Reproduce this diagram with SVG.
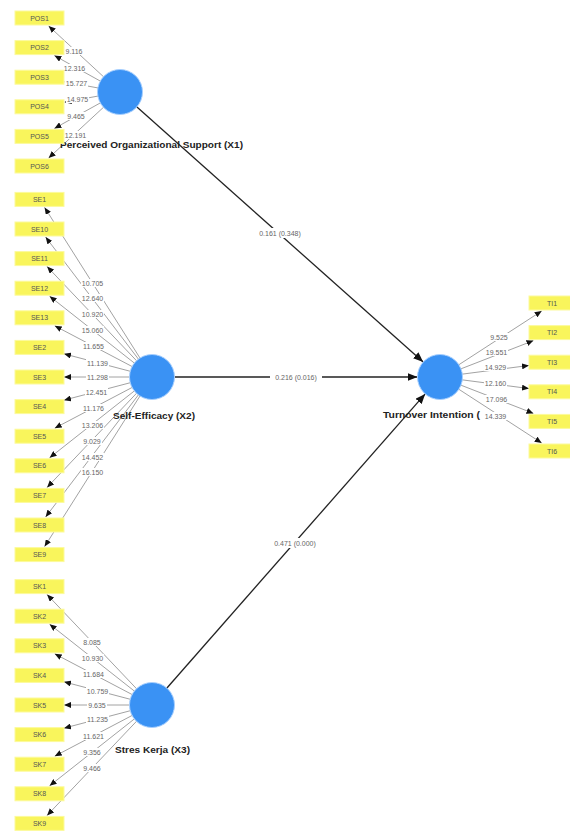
<svg xmlns="http://www.w3.org/2000/svg" width="570" height="831" viewBox="0 0 570 831">
<defs>
<marker id="ah" markerUnits="userSpaceOnUse" markerWidth="7" markerHeight="6" refX="7" refY="3" orient="auto"><path d="M0,0 L7,3 L0,6 z" fill="#111"/></marker>
<marker id="ahb" markerUnits="userSpaceOnUse" markerWidth="10" markerHeight="8" refX="10" refY="4" orient="auto"><path d="M0,0 L10,4 L0,8 z" fill="#111"/></marker>
</defs>
<style>
.ind rect{fill:#f9f55c;stroke:#fcfa9c;stroke-width:1}
.ind text{font-family:"Liberation Sans",Arial,sans-serif;font-size:7px;fill:#555;text-anchor:middle}
.lv circle{fill:#3a92f4;stroke:#a6cfff;stroke-width:1}
.lv text{font-family:"Liberation Sans",Arial,sans-serif;font-size:9px;font-weight:bold;fill:#222}
.ld{stroke:#8a8a8a;stroke-width:0.8;fill:none;marker-end:url(#ah)}
.sp{stroke:#222;stroke-width:1.3;fill:none;marker-end:url(#ahb)}
.lb{font-family:"Liberation Sans",Arial,sans-serif;font-size:7px;fill:#666;text-anchor:middle}
.bg{fill:#fff}
</style>
<rect width="570" height="831" fill="#fff"/>

<g id="connectors">
<!-- structural -->
<line class="sp" x1="136.4" y1="106.6" x2="423.2" y2="362"/>
<line class="sp" x1="174" y1="377" x2="417.5" y2="377"/>
<line class="sp" x1="166.5" y1="688.5" x2="425.2" y2="393.9"/>
<!-- POS -->
<line class="ld" x1="103.85" y1="77.06" x2="48.65" y2="26"/>
<line class="ld" x1="100.77" y1="81.33" x2="54.4" y2="55.6"/>
<line class="ld" x1="98.37" y1="88" x2="64.5" y2="81.8"/>
<line class="ld" x1="98.37" y1="96" x2="64.5" y2="102.2"/>
<line class="ld" x1="100.77" y1="102.67" x2="54.4" y2="128.4"/>
<line class="ld" x1="103.85" y1="106.94" x2="48.65" y2="158"/>
<!-- SE -->
<line class="ld" x1="140.23" y1="358.41" x2="44.6" y2="207.4"/>
<line class="ld" x1="138.69" y1="359.49" x2="45.6" y2="237"/>
<line class="ld" x1="136.85" y1="361.05" x2="47.1" y2="266.6"/>
<line class="ld" x1="134.73" y1="363.37" x2="49.6" y2="296.2"/>
<line class="ld" x1="132.53" y1="366.76" x2="54.7" y2="325.8"/>
<line class="ld" x1="130.72" y1="371.4" x2="64" y2="353.85"/>
<line class="ld" x1="130" y1="377" x2="64" y2="377"/>
<line class="ld" x1="130.72" y1="382.6" x2="64" y2="400.15"/>
<line class="ld" x1="132.53" y1="387.24" x2="54.7" y2="428.2"/>
<line class="ld" x1="134.73" y1="390.63" x2="49.6" y2="457.8"/>
<line class="ld" x1="136.85" y1="392.95" x2="47.1" y2="487.4"/>
<line class="ld" x1="138.69" y1="394.51" x2="45.6" y2="517"/>
<line class="ld" x1="140.23" y1="395.59" x2="44.6" y2="546.6"/>
<!-- SK -->
<line class="ld" x1="136.85" y1="689.05" x2="47.1" y2="594.6"/>
<line class="ld" x1="134.73" y1="691.37" x2="49.6" y2="624.2"/>
<line class="ld" x1="132.53" y1="694.76" x2="54.7" y2="653.8"/>
<line class="ld" x1="130.72" y1="699.4" x2="64" y2="681.85"/>
<line class="ld" x1="130" y1="705" x2="64" y2="705"/>
<line class="ld" x1="130.72" y1="710.6" x2="64" y2="728.15"/>
<line class="ld" x1="132.53" y1="715.24" x2="54.7" y2="756.2"/>
<line class="ld" x1="134.73" y1="718.63" x2="49.6" y2="785.8"/>
<line class="ld" x1="136.85" y1="720.95" x2="47.1" y2="815.4"/>
<!-- TI -->
<line class="ld" x1="458.45" y1="365" x2="541.7" y2="311"/>
<line class="ld" x1="460.5" y1="369" x2="533.5" y2="340.6"/>
<line class="ld" x1="461.8" y1="374.2" x2="529" y2="365.45"/>
<line class="ld" x1="461.8" y1="379.8" x2="529" y2="388.55"/>
<line class="ld" x1="460.5" y1="385" x2="533.5" y2="413.4"/>
<line class="ld" x1="458.45" y1="389" x2="541.7" y2="443"/>

<!-- path coefficient labels -->
<rect class="bg" x="255" y="228" width="50" height="10"/>
<text class="lb" x="280" y="235.5">0.161 (0.348)</text>
<rect class="bg" x="270" y="372" width="52" height="10"/>
<text class="lb" x="296" y="379.5">0.216 (0.016)</text>
<rect class="bg" x="269" y="538" width="52" height="10"/>
<text class="lb" x="295" y="545.5">0.471 (0.000)</text>

<!-- POS loading labels -->
<g>
<rect class="bg" x="64" y="47" width="20" height="8"/><text class="lb" x="74" y="53.5">9.116</text>
<rect class="bg" x="63" y="64" width="23" height="8"/><text class="lb" x="74.5" y="70.5">12.316</text>
<rect class="bg" x="65" y="79" width="23" height="8"/><text class="lb" x="76.5" y="85.5">15.727</text>
<rect class="bg" x="66" y="95" width="23" height="8"/><text class="lb" x="77.5" y="101.5">14.975</text>
<rect class="bg" x="66" y="112" width="20" height="8"/><text class="lb" x="76" y="118.5">9.465</text>
<rect class="bg" x="64" y="131" width="23" height="8"/><text class="lb" x="75.5" y="137.5">12.191</text>
</g>
<!-- SE loading labels -->
<g>
<rect class="bg" x="81" y="279" width="23" height="8"/><text class="lb" x="92.5" y="285.5">10.705</text>
<rect class="bg" x="81" y="294" width="23" height="8"/><text class="lb" x="92.5" y="300.5">12.640</text>
<rect class="bg" x="81" y="310" width="23" height="8"/><text class="lb" x="92.5" y="316.5">10.920</text>
<rect class="bg" x="81" y="326" width="23" height="8"/><text class="lb" x="92.5" y="332.5">15.060</text>
<rect class="bg" x="82" y="342" width="23" height="8"/><text class="lb" x="93.5" y="348.5">11.655</text>
<rect class="bg" x="86" y="359" width="23" height="8"/><text class="lb" x="97.5" y="365.5">11.139</text>
<rect class="bg" x="86" y="373" width="23" height="8"/><text class="lb" x="97.5" y="379.5">11.298</text>
<rect class="bg" x="85" y="388" width="23" height="8"/><text class="lb" x="96.5" y="394.5">12.451</text>
<rect class="bg" x="82" y="404" width="23" height="8"/><text class="lb" x="93.5" y="410.5">11.176</text>
<rect class="bg" x="81" y="421" width="23" height="8"/><text class="lb" x="92.5" y="427.5">13.206</text>
<rect class="bg" x="82" y="437" width="20" height="8"/><text class="lb" x="92" y="443.5">9.029</text>
<rect class="bg" x="81" y="453" width="23" height="8"/><text class="lb" x="92.5" y="459.5">14.452</text>
<rect class="bg" x="81" y="468" width="23" height="8"/><text class="lb" x="92.5" y="474.5">16.150</text>
</g>
<!-- SK loading labels -->
<g>
<rect class="bg" x="82" y="638" width="20" height="8"/><text class="lb" x="92" y="644.5">8.085</text>
<rect class="bg" x="81" y="654" width="23" height="8"/><text class="lb" x="92.5" y="660.5">10.930</text>
<rect class="bg" x="82" y="670" width="23" height="8"/><text class="lb" x="93.5" y="676.5">11.684</text>
<rect class="bg" x="86" y="687" width="23" height="8"/><text class="lb" x="97.5" y="693.5">10.759</text>
<rect class="bg" x="87" y="701" width="20" height="8"/><text class="lb" x="97" y="707.5">9.635</text>
<rect class="bg" x="86" y="715" width="23" height="8"/><text class="lb" x="97.5" y="721.5">11.235</text>
<rect class="bg" x="82" y="732" width="23" height="8"/><text class="lb" x="93.5" y="738.5">11.621</text>
<rect class="bg" x="82" y="748" width="20" height="8"/><text class="lb" x="92" y="754.5">9.356</text>
<rect class="bg" x="82" y="764" width="20" height="8"/><text class="lb" x="92" y="770.5">9.466</text>
</g>
</g>

<g id="POS" class="lv">
<circle cx="120" cy="92" r="22.5"/>
<text x="60" y="148" textLength="183" lengthAdjust="spacingAndGlyphs">Perceived Organizational Support (X1)</text>
</g>
<g id="SE" class="lv">
<circle cx="152" cy="377" r="22.5"/>
<text x="113" y="419" textLength="82" lengthAdjust="spacingAndGlyphs">Self-Efficacy (X2)</text>
</g>
<g id="SK" class="lv">
<circle cx="152" cy="705" r="22.5"/>
<text x="115" y="753" textLength="75" lengthAdjust="spacingAndGlyphs">Stres Kerja (X3)</text>
</g>
<g id="TI" class="lv">
<circle cx="440" cy="377" r="22.5"/>
<text x="383" y="418" textLength="97" lengthAdjust="spacingAndGlyphs">Turnover Intention (</text>
</g>

<!-- TI loading labels -->
<g id="ti-labels">
<rect class="bg" x="489" y="333" width="20" height="8"/><text class="lb" x="499" y="339.5">9.525</text>
<rect class="bg" x="485" y="348" width="23" height="8"/><text class="lb" x="496.5" y="354.5">19.551</text>
<rect class="bg" x="484" y="363" width="23" height="8"/><text class="lb" x="495.5" y="369.5">14.929</text>
<rect class="bg" x="484" y="379" width="23" height="8"/><text class="lb" x="495.5" y="385.5">12.160</text>
<rect class="bg" x="485" y="395" width="23" height="8"/><text class="lb" x="496.5" y="401.5">17.096</text>
<rect class="bg" x="484" y="412" width="23" height="8"/><text class="lb" x="495.5" y="418.5">14.339</text>
</g>

<g id="POS1" class="ind"><rect x="15" y="11" width="49" height="14"/><text x="39.5" y="20.5">POS1</text></g>
<g id="POS2" class="ind"><rect x="15" y="40.6" width="49" height="14"/><text x="39.5" y="50.1">POS2</text></g>
<g id="POS3" class="ind"><rect x="15" y="70.2" width="49" height="14"/><text x="39.5" y="79.7">POS3</text></g>
<g id="POS4" class="ind"><rect x="15" y="99.8" width="49" height="14"/><text x="39.5" y="109.3">POS4</text></g>
<g id="POS5" class="ind"><rect x="15" y="129.4" width="49" height="14"/><text x="39.5" y="138.9">POS5</text></g>
<g id="POS6" class="ind"><rect x="15" y="159" width="49" height="14"/><text x="39.5" y="168.5">POS6</text></g>

<g id="SE1" class="ind"><rect x="15" y="192.4" width="49" height="14"/><text x="39.5" y="201.9">SE1</text></g>
<g id="SE10" class="ind"><rect x="15" y="222" width="49" height="14"/><text x="39.5" y="231.5">SE10</text></g>
<g id="SE11" class="ind"><rect x="15" y="251.6" width="49" height="14"/><text x="39.5" y="261.1">SE11</text></g>
<g id="SE12" class="ind"><rect x="15" y="281.2" width="49" height="14"/><text x="39.5" y="290.7">SE12</text></g>
<g id="SE13" class="ind"><rect x="15" y="310.8" width="49" height="14"/><text x="39.5" y="320.3">SE13</text></g>
<g id="SE2" class="ind"><rect x="15" y="340.4" width="49" height="14"/><text x="39.5" y="349.9">SE2</text></g>
<g id="SE3" class="ind"><rect x="15" y="370" width="49" height="14"/><text x="39.5" y="379.5">SE3</text></g>
<g id="SE4" class="ind"><rect x="15" y="399.6" width="49" height="14"/><text x="39.5" y="409.1">SE4</text></g>
<g id="SE5" class="ind"><rect x="15" y="429.2" width="49" height="14"/><text x="39.5" y="438.7">SE5</text></g>
<g id="SE6" class="ind"><rect x="15" y="458.8" width="49" height="14"/><text x="39.5" y="468.3">SE6</text></g>
<g id="SE7" class="ind"><rect x="15" y="488.4" width="49" height="14"/><text x="39.5" y="497.9">SE7</text></g>
<g id="SE8" class="ind"><rect x="15" y="518" width="49" height="14"/><text x="39.5" y="527.5">SE8</text></g>
<g id="SE9" class="ind"><rect x="15" y="547.6" width="49" height="14"/><text x="39.5" y="557.1">SE9</text></g>

<g id="SK1" class="ind"><rect x="15" y="579.6" width="49" height="14"/><text x="39.5" y="589.1">SK1</text></g>
<g id="SK2" class="ind"><rect x="15" y="609.2" width="49" height="14"/><text x="39.5" y="618.7">SK2</text></g>
<g id="SK3" class="ind"><rect x="15" y="638.8" width="49" height="14"/><text x="39.5" y="648.3">SK3</text></g>
<g id="SK4" class="ind"><rect x="15" y="668.4" width="49" height="14"/><text x="39.5" y="677.9">SK4</text></g>
<g id="SK5" class="ind"><rect x="15" y="698" width="49" height="14"/><text x="39.5" y="707.5">SK5</text></g>
<g id="SK6" class="ind"><rect x="15" y="727.6" width="49" height="14"/><text x="39.5" y="737.1">SK6</text></g>
<g id="SK7" class="ind"><rect x="15" y="757.2" width="49" height="14"/><text x="39.5" y="766.7">SK7</text></g>
<g id="SK8" class="ind"><rect x="15" y="786.8" width="49" height="14"/><text x="39.5" y="796.3">SK8</text></g>
<g id="SK9" class="ind"><rect x="15" y="816.4" width="49" height="14"/><text x="39.5" y="825.9">SK9</text></g>

<g id="TI1" class="ind"><rect x="529" y="296" width="50" height="14"/><text x="552" y="305.5">TI1</text></g>
<g id="TI2" class="ind"><rect x="529" y="325.6" width="50" height="14"/><text x="552" y="335.1">TI2</text></g>
<g id="TI3" class="ind"><rect x="529" y="355.2" width="50" height="14"/><text x="552" y="364.7">TI3</text></g>
<g id="TI4" class="ind"><rect x="529" y="384.8" width="50" height="14"/><text x="552" y="394.3">TI4</text></g>
<g id="TI5" class="ind"><rect x="529" y="414.4" width="50" height="14"/><text x="552" y="423.9">TI5</text></g>
<g id="TI6" class="ind"><rect x="529" y="444" width="50" height="14"/><text x="552" y="453.5">TI6</text></g>
</svg>
